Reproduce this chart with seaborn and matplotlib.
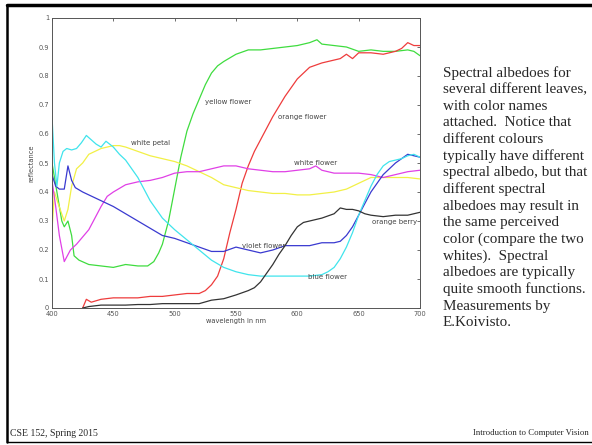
import numpy as np
import pandas as pd
import seaborn as sns
import matplotlib.pyplot as plt
from matplotlib.lines import Line2D

# spectral albedo curves
yellow_flower_wl = [400, 404, 408, 410, 413, 416, 418, 422, 430, 440, 450, 460, 470, 478, 483, 487, 490,
                    495, 500, 505, 510, 515, 520, 525, 530, 535, 540, 550, 560, 570, 580, 590, 600, 610,
                    616, 620, 630, 640, 650, 660, 670, 680, 690, 695, 700]
yellow_flower = [0.50, 0.40, 0.30, 0.28, 0.30, 0.25, 0.18, 0.165, 0.15, 0.145, 0.14, 0.15, 0.145, 0.145,
                 0.16, 0.19, 0.22, 0.30, 0.41, 0.52, 0.61, 0.67, 0.72, 0.77, 0.81, 0.835, 0.85, 0.875,
                 0.89, 0.89, 0.895, 0.90, 0.905, 0.915, 0.925, 0.91, 0.905, 0.90, 0.885, 0.89, 0.885,
                 0.885, 0.89, 0.885, 0.87]

orange_flower_wl = [425, 428, 432, 436, 440, 450, 460, 470, 480, 490, 500, 510, 520, 525, 530, 535, 540,
                    545, 550, 555, 560, 565, 570, 575, 580, 590, 600, 610, 620, 630, 635, 640, 645, 650,
                    660, 670, 680, 685, 690, 695, 700]
orange_flower = [0.0, 0.03, 0.02, 0.025, 0.03, 0.035, 0.035, 0.035, 0.04, 0.04, 0.045, 0.05, 0.05, 0.06,
                 0.08, 0.11, 0.17, 0.26, 0.34, 0.43, 0.49, 0.54, 0.58, 0.62, 0.66, 0.73, 0.79, 0.83,
                 0.845, 0.855, 0.86, 0.875, 0.86, 0.88, 0.88, 0.875, 0.885, 0.895, 0.915, 0.905, 0.905]

white_petal_wl = [400, 402, 405, 410, 413, 416, 420, 425, 430, 440, 450, 455, 460, 470, 480, 490, 500,
                  510, 520, 530, 540, 550, 560, 570, 580, 590, 600, 610, 620, 630, 640, 645, 650, 655,
                  660, 670, 680, 690, 700]
white_petal = [0.27, 0.40, 0.36, 0.30, 0.34, 0.42, 0.48, 0.50, 0.53, 0.55, 0.56, 0.56, 0.555, 0.54,
               0.525, 0.515, 0.505, 0.49, 0.47, 0.45, 0.425, 0.415, 0.405, 0.40, 0.395, 0.395, 0.39,
               0.39, 0.395, 0.40, 0.41, 0.42, 0.43, 0.44, 0.45, 0.45, 0.45, 0.45, 0.445]

white_flower_wl = [400, 403, 406, 410, 415, 420, 425, 430, 435, 440, 445, 450, 460, 470, 480, 490, 500,
                   510, 520, 530, 540, 550, 560, 570, 580, 590, 600, 610, 615, 620, 630, 640, 650, 660,
                   665, 670, 680, 690, 700]
white_flower = [0.44, 0.35, 0.25, 0.16, 0.20, 0.22, 0.245, 0.27, 0.31, 0.35, 0.385, 0.40, 0.425, 0.435,
                0.44, 0.45, 0.465, 0.47, 0.47, 0.48, 0.49, 0.49, 0.48, 0.475, 0.47, 0.47, 0.475, 0.48,
                0.49, 0.475, 0.465, 0.465, 0.465, 0.46, 0.455, 0.45, 0.46, 0.47, 0.475]

violet_flower_wl = [400, 403, 406, 410, 413, 416, 419, 425, 430, 440, 450, 460, 470, 480, 490, 500, 510,
                    520, 530, 540, 550, 560, 570, 580, 590, 600, 610, 620, 630, 635, 640, 645, 650, 655,
                    660, 665, 670, 675, 680, 685, 690, 695, 700]
violet_flower = [0.46, 0.42, 0.41, 0.41, 0.49, 0.44, 0.415, 0.40, 0.39, 0.37, 0.35, 0.325, 0.30, 0.275,
                 0.25, 0.24, 0.225, 0.21, 0.195, 0.195, 0.21, 0.20, 0.19, 0.20, 0.215, 0.215, 0.215,
                 0.225, 0.225, 0.23, 0.25, 0.28, 0.32, 0.36, 0.40, 0.43, 0.46, 0.48, 0.50, 0.515, 0.53,
                 0.525, 0.52]

blue_flower_wl = [400, 402, 404, 406, 409, 412, 416, 420, 424, 428, 432, 436, 440, 444, 450, 455, 460,
                  465, 470, 475, 480, 490, 500, 510, 520, 530, 540, 550, 560, 570, 580, 590, 600, 610,
                  620, 625, 630, 635, 640, 645, 650, 655, 660, 665, 670, 675, 680, 685, 690, 695, 700]
blue_flower = [0.66, 0.50, 0.42, 0.50, 0.54, 0.55, 0.545, 0.55, 0.57, 0.595, 0.58, 0.565, 0.555, 0.575,
               0.555, 0.53, 0.51, 0.48, 0.45, 0.41, 0.37, 0.31, 0.27, 0.235, 0.20, 0.165, 0.14, 0.125,
               0.115, 0.11, 0.11, 0.11, 0.11, 0.11, 0.115, 0.125, 0.14, 0.17, 0.21, 0.26, 0.32, 0.37,
               0.42, 0.46, 0.49, 0.505, 0.51, 0.515, 0.525, 0.53, 0.52]

orange_berry_wl = [425, 430, 440, 450, 460, 470, 480, 490, 500, 510, 520, 530, 540, 550, 560, 565, 570,
                   575, 580, 585, 590, 595, 600, 605, 610, 620, 630, 635, 640, 645, 650, 655, 660, 670,
                   680, 690, 700]
orange_berry = [0.0, 0.005, 0.01, 0.01, 0.01, 0.012, 0.012, 0.015, 0.015, 0.015, 0.015, 0.027, 0.032,
                0.045, 0.06, 0.07, 0.09, 0.12, 0.15, 0.185, 0.215, 0.25, 0.28, 0.295, 0.30, 0.31, 0.325,
                0.345, 0.34, 0.34, 0.335, 0.325, 0.32, 0.315, 0.32, 0.32, 0.33]

series = {
    "yellow flower": (yellow_flower_wl, yellow_flower),
    "orange flower": (orange_flower_wl, orange_flower),
    "white petal": (white_petal_wl, white_petal),
    "white flower": (white_flower_wl, white_flower),
    "violet flower": (violet_flower_wl, violet_flower),
    "blue flower": (blue_flower_wl, blue_flower),
    "orange berry": (orange_berry_wl, orange_berry),
}
colors = {
    "yellow flower": "#3fdc3f",
    "orange flower": "#ee3c3c",
    "white petal": "#f2f046",
    "white flower": "#e040e6",
    "violet flower": "#3a3ad0",
    "blue flower": "#40e4ec",
    "orange berry": "#333333",
}
# label anchor (wavelength, reflectance) for each curve name
label_pos = {
    "yellow flower": (525, 0.71),
    "orange flower": (584, 0.66),
    "white petal": (464, 0.57),
    "white flower": (597, 0.50),
    "violet flower": (555, 0.214),
    "blue flower": (609, 0.107),
    "orange berry": (661, 0.297),
}

rows = []
for name, (wl, r) in series.items():
    for w, v in zip(wl, r):
        rows.append((name, w, v))
df = pd.DataFrame(rows, columns=["series", "wavelength", "reflectance"])

sns.set_style("white")
fig = plt.figure(figsize=(5.92, 4.45), dpi=100)
ax = fig.add_axes([52 / 592, 1 - 308 / 445, 368 / 592, 290 / 445])

sns.lineplot(data=df, x="wavelength", y="reflectance", hue="series", palette=colors,
             estimator=None, sort=True, legend=False, linewidth=0.9, ax=ax)

for name, (x, y) in label_pos.items():
    ax.text(x, y, name, fontsize=5.0, color="#444444", va="center", ha="left")

ax.set_xlim(400, 700)
ax.set_ylim(0, 1)
ax.set_xticks(np.arange(400, 701, 50))
ax.set_yticks(np.arange(0, 1.01, 0.1))
ax.set_yticklabels(["0"] + [f"{v:.1f}" for v in np.arange(0.1, 0.95, 0.1)] + ["1"])
ax.tick_params(direction="in", top=True, right=True, length=2.5, width=0.6,
               labelsize=4.8, colors="#555555", pad=2)
ax.set_xlabel("wavelength in nm", fontsize=4.8, color="#444444", labelpad=1)
ax.set_ylabel("reflectance", fontsize=4.8, color="#444444", labelpad=3)
for s in ax.spines.values():
    s.set_color("#555555")
    s.set_linewidth(0.7)

# slide frame
fig.add_artist(Line2D([7 / 592, 1], [1 - 5 / 445, 1 - 5 / 445], color="black", lw=2.5))
fig.add_artist(Line2D([7 / 592, 7 / 592], [1 - 5 / 445, 1 - 442 / 445], color="black", lw=1.8))
fig.add_artist(Line2D([7 / 592, 1], [1 - 442 / 445, 1 - 442 / 445], color="black", lw=1.0))

notes = ["Spectral albedoes for", "several different leaves,", "with color names",
         "attached.  Notice that", "different colours", "typically have different",
         "spectral albedo, but that", "different spectral", "albedoes may result in",
         "the same perceived", "color (compare the two", "whites).  Spectral",
         "albedoes are typically", "quite smooth functions.", "Measurements by", "E.Koivisto."]
for i, line in enumerate(notes):
    fig.text(443 / 592, 1 - (73 + i * 16.65) / 445, line, fontsize=10.9,
             family="Liberation Serif", va="center", ha="left")

fig.text(10 / 592, 1 - 433 / 445, "CSE 152, Spring 2015", fontsize=7.0,
         family="Liberation Serif", va="center", ha="left")
fig.text(589 / 592, 1 - 433 / 445, "Introduction to Computer Vision", fontsize=6.3,
         family="Liberation Serif", va="center", ha="right")

fig.savefig("out.png", dpi=100)
